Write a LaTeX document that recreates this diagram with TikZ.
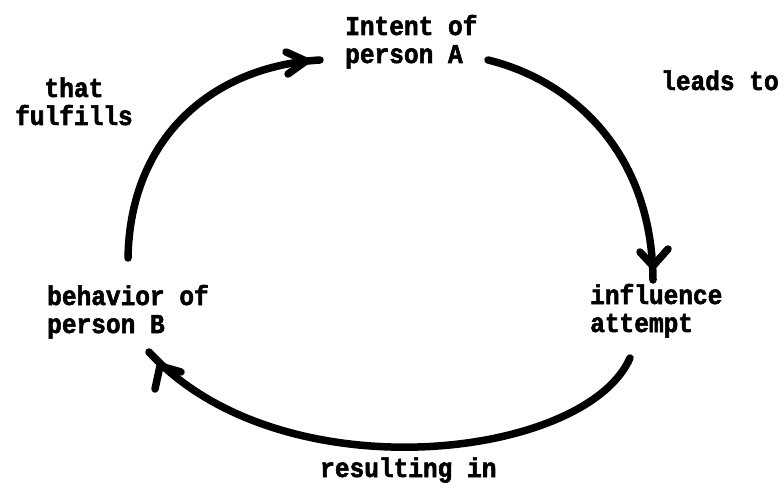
\documentclass[tikz,border=0pt]{standalone}
\usepackage{fontspec}
\newfontfamily\tw{Liberation Mono}[FakeBold=2,FakeStretch=0.9]
\begin{document}
\begin{tikzpicture}[x=1pt,y=-1pt,
  lbl/.style={anchor=base west,inner sep=0pt,align=left,
    font=\tw\bfseries\fontsize{27.2}{28}\selectfont},
  arc/.style={line width=7.5pt,line cap=round,line join=round},
  barb/.style={line width=7.5pt,line cap=round,line join=round}]
\useasboundingbox[fill=white] (0,0) rectangle (784,489);
% labels (anchor = baseline of last line)
\node[lbl] (intent) at (345,63) {Intent of\\person A};
\node[lbl] (that)   at (15,125) {\phantom{fu}that\\fulfills};
\node[lbl] (leads)  at (661,90) {leads to};
\node[lbl] (behav)  at (47,333) {behavior of\\person B};
\node[lbl] (infl)   at (590,332) {influence\\attempt};
\node[lbl] (result) at (320,477) {resulting in};
% arc ends
\coordinate (s1) at (128,258);
\coordinate (t1) at (320,60);
\coordinate (j1) at (306,61);
\coordinate (s2) at (488,60);
\coordinate (t2) at (653,280);
\coordinate (j2) at (653,266);
\coordinate (s3) at (630,358);
\coordinate (t3) at (149,352);
\coordinate (j3) at (160,366);
% behavior -> intent
\draw[arc] (s1) .. controls (130,135) and (215,66) .. (t1);
\draw[barb] (286,52) -- (j1) -- (288,74);
% intent -> influence
\draw[arc] (s2) .. controls (570,80) and (652,150) .. (t2);
\draw[barb] (640,252) -- (j2) -- (668,249);
% influence -> behavior
\draw[arc] (s3) .. controls (585,460) and (280,495) .. (t3);
\draw[barb] (181,372) -- (j3) -- (155,389);
\end{tikzpicture}
\end{document}
